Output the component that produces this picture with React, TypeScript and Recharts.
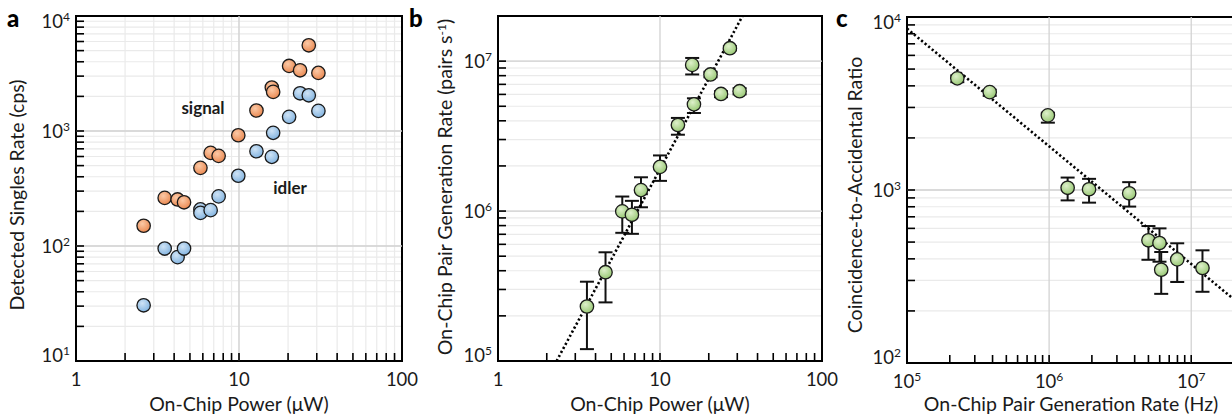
import React from "react";
import {
  ScatterChart,
  Scatter,
  XAxis,
  YAxis,
  CartesianGrid,
  ReferenceLine,
  ReferenceArea,
  ErrorBar,
} from "recharts";

// panel a: detected singles rate vs on-chip power
const signalPower = [2.6, 3.5, 4.2, 4.6, 5.8, 6.7, 7.5, 9.9, 12.8, 15.9, 16.2, 20.3, 23.7, 26.8, 30.7];
const signalRate = [150, 262, 254, 240, 478, 645, 608, 918, 1507, 2388, 2188, 3680, 3373, 5560, 3200];
const idlerPower = [2.6, 3.5, 4.2, 4.6, 5.8, 5.8, 6.7, 7.5, 9.9, 12.8, 15.9, 16.2, 20.3, 23.7, 26.8, 30.7];
const idlerRate = [30.5, 95, 80, 95, 208, 194, 205, 270, 408, 667, 596, 964, 1327, 2128, 2044, 1496];

// panel b: pair generation rate vs on-chip power
const pairPower = [3.54, 4.61, 5.85, 6.71, 7.63, 10, 12.9, 16.2, 15.8, 20.5, 23.8, 27.0, 31.0];
const pairRate = [2.31e5, 3.91e5, 9.95e5, 9.44e5, 1.38e6, 1.97e6, 3.75e6, 5.15e6, 9.44e6, 8.15e6, 6.04e6, 1.22e7, 6.3e6];
const pairHigh = [3.38e5, 5.31e5, 1.25e6, 1.17e6, 1.68e6, 2.35e6, 4.18e6, 5.65e6, 1.05e7, 8.5e6, 6.3e6, 1.26e7, 6.6e6];
const pairLow = [1.2e5, 2.46e5, 7.16e5, 7.05e5, 1.06e6, 1.59e6, 3.23e6, 4.51e6, 8.15e6, 7.8e6, 5.75e6, 1.18e7, 6.0e6];
const fitPowerB = [2.3, 32.3];
const fitRateB = [1e5, 2e7];

// panel c: CAR vs pair generation rate
const carRate = [2.26e5, 3.82e5, 9.8e5, 1.35e6, 1.91e6, 3.66e6, 5.0e6, 5.98e6, 6.15e6, 7.97e6, 1.2e7];
const carValue = [4420, 3680, 2700, 1030, 1010, 957, 512, 494, 346, 397, 354];
const carHigh = [4600, 3800, 2800, 1180, 1160, 1110, 619, 600, 438, 492, 448];
const carLow = [4200, 3500, 2450, 871, 845, 802, 395, 385, 251, 294, 258];
const fitRateC = [1e5, 2e7];
const fitCar = [8570, 233];

// ticks
const xTicksPower = [1, 2, 3, 4, 5, 6, 7, 8, 9, 10, 20, 30, 40, 50, 60, 70, 80, 90, 100];
const yTicksA = [10, 20, 30, 40, 50, 60, 70, 80, 90, 100, 200, 300, 400, 500, 600, 700, 800, 900, 1000, 2000, 3000, 4000, 5000, 6000, 7000, 8000, 9000, 10000];
const yTicksB = [1e5, 2e5, 3e5, 4e5, 5e5, 6e5, 7e5, 8e5, 9e5, 1e6, 2e6, 3e6, 4e6, 5e6, 6e6, 7e6, 8e6, 9e6, 1e7, 2e7];
const xTicksC = [1e5, 2e5, 3e5, 4e5, 5e5, 6e5, 7e5, 8e5, 9e5, 1e6, 2e6, 3e6, 4e6, 5e6, 6e6, 7e6, 8e6, 9e6, 1e7, 2e7];
const yTicksC = [100, 200, 300, 400, 500, 600, 700, 800, 900, 1000, 2000, 3000, 4000, 5000, 6000, 7000, 8000, 9000, 10000];

const FONT = "Lato, 'Open Sans', sans-serif";
const MAJOR = "#d2d2d2";
const MINOR = "#eaeaea";

const zip = (xs: number[], ys: number[]) => xs.map((x, i) => ({ x, y: ys[i] }));
const zipErr = (xs: number[], ys: number[], lo: number[], hi: number[]) =>
  xs.map((x, i) => ({ x, y: ys[i], err: [ys[i] - lo[i], hi[i] - ys[i]] }));

const isDecade = (v: number) => Math.abs(Math.log10(v) - Math.round(Math.log10(v))) < 1e-9;

function TickText({ v, power, x, y, anchor }: any) {
  if (!power) {
    return (
      <text x={x} y={y} textAnchor={anchor} fontFamily={FONT} fontSize={18.5} fill="#1a1a1a">
        {String(v)}
      </text>
    );
  }
  const e = Math.round(Math.log10(v));
  return (
    <text x={x} y={y} textAnchor={anchor} fontFamily={FONT} fontSize={18.5} fill="#1a1a1a">
      10
      <tspan dy={-7} fontSize={12}>
        {e}
      </tspan>
    </text>
  );
}

const makeXTick = (power: boolean, domain: number[]) => (p: any) => {
  const v = p.payload.value;
  if (v > domain[1] * 1.0001) return <g />;
  return (
    <g>
      <line x1={p.x} x2={p.x} y1={p.y} y2={p.y - 8} stroke="#000" strokeWidth={1.6} />
      {isDecade(v) && <TickText v={v} power={power} x={p.x} y={p.y + 25} anchor="middle" />}
    </g>
  );
};

const makeYTick = (power: boolean, domain: number[]) => (p: any) => {
  const v = p.payload.value;
  let base = p.y + 7;
  if (Math.abs(v - domain[1]) < 1e-6 * v) base = p.y + 12;
  if (Math.abs(v - domain[0]) < 1e-6 * v) base = p.y + 1;
  return (
    <g>
      <line x1={p.x} x2={p.x + 8} y1={p.y} y2={p.y} stroke="#000" strokeWidth={1.6} />
      {isDecade(v) && <TickText v={v} power={power} x={p.x - 6} y={base} anchor="end" />}
    </g>
  );
};

const dot = (fill: string) => (p: any) => (
  <circle cx={p.cx} cy={p.cy} r={6.7} fill={fill} stroke="#1a1a1a" strokeWidth={1.3} />
);

const fitLine = { stroke: "#000", strokeWidth: 2.6, strokeDasharray: "2.2 2.4" };

function Gradients() {
  return (
    <svg width={0} height={0} style={{ position: "absolute" }}>
      <defs>
        <radialGradient id="gOrange" cx="40%" cy="35%" r="70%">
          <stop offset="0%" stopColor="#fbc9a6" />
          <stop offset="100%" stopColor="#e9854c" />
        </radialGradient>
        <radialGradient id="gBlue" cx="40%" cy="35%" r="70%">
          <stop offset="0%" stopColor="#cfe3f5" />
          <stop offset="100%" stopColor="#7eb1df" />
        </radialGradient>
        <radialGradient id="gGreen" cx="40%" cy="35%" r="70%">
          <stop offset="0%" stopColor="#def0cb" />
          <stop offset="100%" stopColor="#94c66f" />
        </radialGradient>
      </defs>
    </svg>
  );
}

function PanelA() {
  const xd = [1, 100];
  const yd = [10, 10000];
  return (
    <ScatterChart width={410} height={416} margin={{ top: 16, right: 8, left: 0, bottom: 0 }}>
      <CartesianGrid stroke={MINOR} strokeWidth={1.2} />
      <ReferenceLine x={10} stroke={MAJOR} strokeWidth={1.3} />
      <ReferenceLine y={100} stroke={MAJOR} strokeWidth={1.3} />
      <ReferenceLine y={1000} stroke={MAJOR} strokeWidth={1.3} />
      <XAxis type="number" dataKey="x" scale="log" domain={xd} allowDataOverflow ticks={xTicksPower}
        interval={0} height={55} axisLine={false} tickLine={false} tickSize={0} tickMargin={0}
        tick={makeXTick(false, xd)} />
      <YAxis type="number" dataKey="y" scale="log" domain={yd} allowDataOverflow ticks={yTicksA}
        interval={0} width={76} axisLine={false} tickLine={false} tickSize={0} tickMargin={0}
        tick={makeYTick(true, yd)} />
      <ReferenceArea x1={1} x2={100} y1={10} y2={10000} fill="none" stroke="#000" strokeWidth={2} />
      <Scatter data={zip(signalPower, signalRate)} shape={dot("url(#gOrange)")} isAnimationActive={false} />
      <Scatter data={zip(idlerPower, idlerRate)} shape={dot("url(#gBlue)")} isAnimationActive={false} />
    </ScatterChart>
  );
}

function PanelB() {
  const xd = [1, 100];
  const yd = [1e5, 2e7];
  return (
    <ScatterChart width={410} height={416} margin={{ top: 16, right: 8, left: 0, bottom: 0 }}>
      <CartesianGrid stroke={MINOR} strokeWidth={1.2} vertical={false} />
      <ReferenceLine x={10} stroke={MAJOR} strokeWidth={1.3} />
      <ReferenceLine y={1e6} stroke={MAJOR} strokeWidth={1.3} />
      <ReferenceLine y={1e7} stroke={MAJOR} strokeWidth={1.3} />
      <XAxis type="number" dataKey="x" scale="log" domain={xd} allowDataOverflow ticks={xTicksPower}
        interval={0} height={55} axisLine={false} tickLine={false} tickSize={0} tickMargin={0}
        tick={makeXTick(false, xd)} />
      <YAxis type="number" dataKey="y" scale="log" domain={yd} allowDataOverflow ticks={yTicksB}
        interval={0} width={78} axisLine={false} tickLine={false} tickSize={0} tickMargin={0}
        tick={makeYTick(true, [1e5, 1e7 * 1000])} />
      <ReferenceArea x1={1} x2={100} y1={1e5} y2={2e7} fill="none" stroke="#000" strokeWidth={2} />
      <Scatter data={zip(fitPowerB, fitRateB)} line={fitLine} shape={() => <g />} isAnimationActive={false} />
      <Scatter data={zipErr(pairPower, pairRate, pairLow, pairHigh)} shape={dot("url(#gGreen)")} isAnimationActive={false}>
        <ErrorBar dataKey="err" direction="y" width={7} stroke="#111" strokeWidth={2} />
      </Scatter>
    </ScatterChart>
  );
}

function PanelC() {
  const xd = [1e5, 2e7];
  const yd = [100, 10000];
  return (
    <ScatterChart width={404} height={416} margin={{ top: 17, right: 0, left: 0, bottom: 0 }}>
      <CartesianGrid stroke={MINOR} strokeWidth={1.2} vertical={false} />
      <ReferenceLine x={1e6} stroke={MAJOR} strokeWidth={1.3} />
      <ReferenceLine x={1e7} stroke={MAJOR} strokeWidth={1.3} />
      <ReferenceLine y={1000} stroke={MAJOR} strokeWidth={1.3} />
      <XAxis type="number" dataKey="x" scale="log" domain={xd} allowDataOverflow ticks={xTicksC}
        interval={0} height={53} axisLine={false} tickLine={false} tickSize={0} tickMargin={0}
        tick={makeXTick(true, [1e5, 1e7])} />
      <YAxis type="number" dataKey="y" scale="log" domain={yd} allowDataOverflow ticks={yTicksC}
        interval={0} width={77} axisLine={false} tickLine={false} tickSize={0} tickMargin={0}
        tick={makeYTick(true, yd)} />
      <ReferenceArea x1={1e5} x2={2e7} y1={100} y2={10000} fill="none" stroke="#000" strokeWidth={2} />
      <Scatter data={zip(fitRateC, fitCar)} line={fitLine} shape={() => <g />} isAnimationActive={false} />
      <Scatter data={zipErr(carRate, carValue, carLow, carHigh)} shape={dot("url(#gGreen)")} isAnimationActive={false}>
        <ErrorBar dataKey="err" direction="y" width={7} stroke="#111" strokeWidth={2} />
      </Scatter>
    </ScatterChart>
  );
}

const titleStyle = { fontFamily: FONT, fontSize: 19.5, fill: "#1a1a1a" } as const;
const letterStyle = { fontFamily: FONT, fontSize: 24, fontWeight: 900, fill: "#000" } as const;
const noteStyle = { fontFamily: FONT, fontSize: 17, fontWeight: 700, fill: "#1a1a1a" } as const;

function Overlay() {
  return (
    <svg width={1232} height={416} style={{ position: "absolute", left: 0, top: 0, pointerEvents: "none" }}>
      <text x={7} y={27} style={letterStyle}>a</text>
      <text x={409} y={27} style={letterStyle}>b</text>
      <text x={836} y={27} style={letterStyle}>c</text>

      <text x={239} y={411} textAnchor="middle" style={titleStyle}>On-Chip Power (μW)</text>
      <text x={660} y={411} textAnchor="middle" style={titleStyle}>On-Chip Power (μW)</text>
      <text x={1071} y={411} textAnchor="middle" style={titleStyle}>On-Chip Pair Generation Rate (Hz)</text>

      <text transform="translate(24,195) rotate(-90)" textAnchor="middle" style={titleStyle}>
        Detected Singles Rate (cps)
      </text>
      <text transform="translate(452,187) rotate(-90)" textAnchor="middle" style={titleStyle}>
        On-Chip Pair Generation Rate (pairs s<tspan dy={-6} fontSize={12}>-1</tspan><tspan dy={6}>)</tspan>
      </text>
      <text transform="translate(862,195) rotate(-90)" textAnchor="middle" style={titleStyle}>
        Coincidence-to-Accidental Ratio
      </text>

      <text x={203} y={114} textAnchor="middle" style={noteStyle}>signal</text>
      <text x={290} y={194} textAnchor="middle" style={noteStyle}>idler</text>
    </svg>
  );
}

export default function App() {
  return (
    <div style={{ position: "absolute", left: 0, top: 0, width: 1232, height: 416, overflow: "hidden", background: "#fff" }}>
      <style>{`.recharts-surface{overflow:visible}`}</style>
      <Gradients />
      <div style={{ position: "absolute", left: 0, top: 0 }}>
        <PanelA />
      </div>
      <div style={{ position: "absolute", left: 420, top: 0 }}>
        <PanelB />
      </div>
      <div style={{ position: "absolute", left: 830, top: 0 }}>
        <PanelC />
      </div>
      <Overlay />
    </div>
  );
}
